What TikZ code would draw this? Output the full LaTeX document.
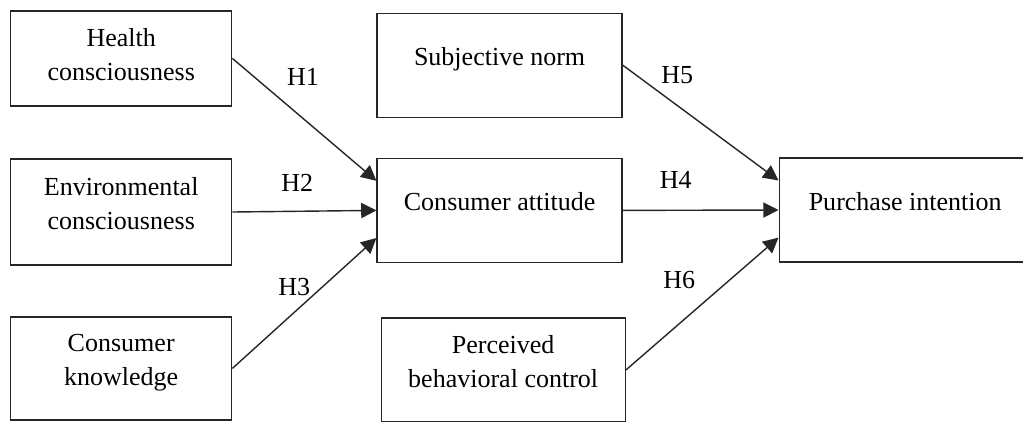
\documentclass[tikz,border=0pt]{standalone}
\usepackage{fontspec}
\setmainfont{Liberation Serif}
\usetikzlibrary{arrows.meta, positioning}

\begin{document}
\begin{tikzpicture}[
    box/.style={rectangle, draw=black!85, line width=1pt, align=center, font=\fontsize{18.5}{24}\selectfont, minimum height=2.6cm, execute at end node={\rule[-#1]{0pt}{0pt}}},
    box/.default=12pt,
    arrow/.style={-{Triangle[length=0.38cm, width=0.38cm]}, line width=1pt, draw=black!85},
    hyp/.style={font=\fontsize{18.5}{24}\selectfont, inner sep=0pt}
]
    \useasboundingbox (0,0) rectangle (25.575,-10.525);

    % antecedents of attitude
    \node[box=6pt, minimum width=5.525cm, minimum height=2.375cm] (health) at (3.03,-1.46) {Health\\ consciousness};
    \node[box, minimum width=5.525cm, minimum height=2.65cm] (env) at (3.03,-5.3) {Environmental\\ consciousness};
    \node[box, minimum width=5.525cm, minimum height=2.575cm] (know) at (3.03,-9.21) {Consumer\\ knowledge};

    % middle column
    \node[box, minimum width=6.125cm] (norm) at (12.49,-1.63) {Subjective norm};
    \node[box, minimum width=6.125cm] (att) at (12.49,-5.26) {Consumer attitude};
    \node[box, minimum width=6.1cm] (pbc) at (12.58,-9.25) {Perceived\\ behavioral control};

    % outcome
    \node[box, minimum width=6.3cm] (pi) at (22.63,-5.25) {Purchase intention};

    \draw[arrow] (health.east) -- node[hyp, pos=0.49, yshift=1.03cm] {H1} ([yshift=0.74cm]att.west);
    \draw[arrow] (env.east) -- node[hyp, pos=0.45, yshift=0.7cm] {H2} (att.west);
    \draw[arrow] (know.east) -- node[hyp, pos=0.43, yshift=0.63cm] {H3} ([yshift=-0.69cm]att.west);
    \draw[arrow] (att.east) -- node[hyp, pos=0.34, yshift=0.75cm] {H4} (pi.west);
    \draw[arrow] (norm.east) -- node[hyp, pos=0.35, yshift=0.75cm] {H5} ([yshift=0.74cm]pi.west);
    \draw[arrow] (pbc.east) -- node[hyp, pos=0.35, yshift=1.09cm] {H6} ([yshift=-0.69cm]pi.west);
\end{tikzpicture}
\end{document}
